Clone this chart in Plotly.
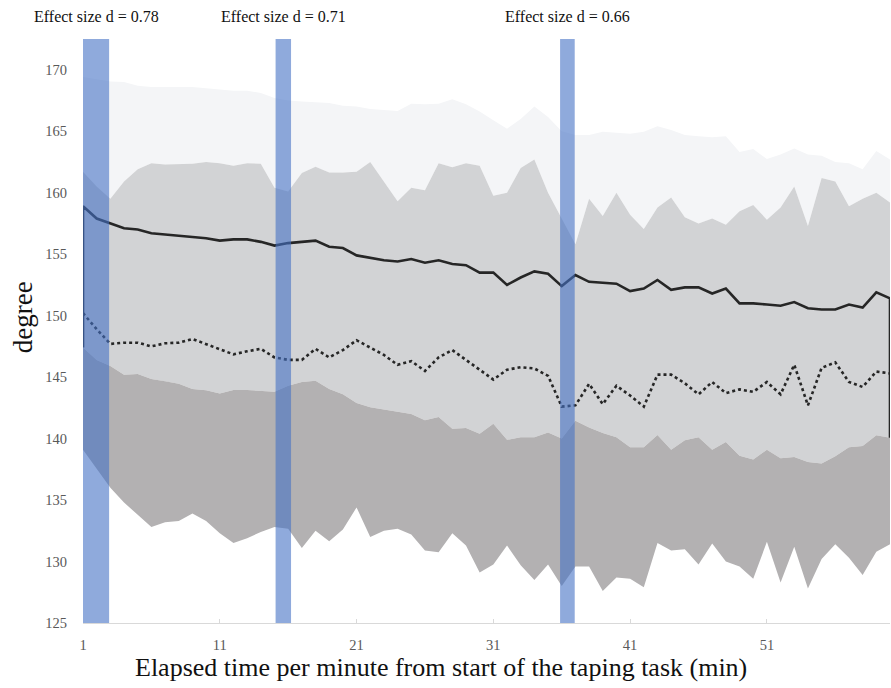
import plotly.graph_objects as go

minutes = list(range(1, 61))

solid_mean = [158.9,157.9,157.5,157.1,157.0,156.7,156.6,156.5,156.35,156.3,
              156.1,156.2,156.2,156.0,155.7,155.9,156.0,156.1,155.6,155.5,
              154.9,154.7,154.5,154.4,154.6,154.3,154.5,154.2,154.1,153.5,
              153.5,152.5,153.1,153.6,153.4,152.4,153.3,152.75,152.7,152.6,
              152.0,152.2,152.9,152.1,152.3,152.3,151.8,152.2,151.0,151.0,
              150.9,150.8,151.1,150.6,150.5,150.5,150.9,150.65,151.9,151.4]

dotted_mean = [150.2,148.9,147.7,147.8,147.8,147.5,147.75,147.8,148.1,147.7,
               147.3,146.85,147.1,147.3,146.6,146.4,146.4,147.3,146.6,147.2,
               148.0,147.4,146.8,146.0,146.3,145.5,146.6,147.2,146.4,145.55,
               144.8,145.6,145.8,145.7,145.1,142.6,142.7,144.45,142.8,144.3,
               143.5,142.6,145.2,145.2,144.5,143.6,144.6,143.7,144.0,143.8,
               144.6,143.6,146.0,142.7,145.75,146.2,144.6,144.2,145.45,145.3]

light_top = [169.4,169.2,169.05,169.0,168.7,168.6,168.6,168.6,168.6,168.5,
             168.4,168.3,168.3,168.1,167.7,167.5,167.42,167.37,167.29,167.07,
             167.0,166.8,166.75,166.64,167.24,167.2,167.24,167.6,167.2,166.6,
             165.9,165.2,166.0,167.0,166.15,165.0,164.7,164.7,164.96,164.9,
             164.8,164.96,165.4,165.1,164.7,164.6,164.5,164.6,163.3,163.55,
             162.74,163.1,163.6,163.1,163.0,162.5,162.4,161.9,163.4,162.7]

mid_top = [161.7,160.5,159.5,160.9,161.9,162.4,162.3,162.3,162.35,162.5,
           162.4,162.2,162.4,162.35,160.4,160.1,161.6,162.1,161.65,161.65,
           161.7,162.5,160.9,159.3,160.4,160.2,162.4,162.06,162.4,162.2,
           159.75,160.0,162.0,162.7,160.0,157.9,155.8,159.5,158.1,160.0,
           158.2,157.05,158.8,159.6,158.0,157.5,157.9,157.4,158.5,159.0,
           157.8,158.8,160.5,157.3,161.2,160.9,158.9,159.5,160.0,159.2]

dark_top = [147.4,146.4,145.9,145.2,145.26,144.85,144.66,144.45,144.04,143.93,
            143.66,143.96,143.96,143.88,143.8,144.3,144.6,144.7,144.04,143.6,
            142.9,142.55,142.36,142.2,142.0,141.5,141.76,140.8,140.87,140.4,
            141.2,139.9,140.1,140.1,140.5,140.0,141.46,140.9,140.46,140.1,
            139.3,139.3,140.3,139.1,139.86,140.1,139.1,139.73,138.6,138.3,
            139.1,138.4,138.5,138.1,137.97,138.56,139.3,139.4,140.27,140.06]

dark_bottom = [139.1,137.5,136.0,134.8,133.8,132.8,133.2,133.3,133.9,133.3,
               132.3,131.5,131.9,132.4,132.8,132.66,131.1,132.5,131.65,132.6,
               134.4,132.0,132.5,132.66,132.2,130.9,130.75,132.3,131.3,129.1,
               129.75,131.3,129.7,128.5,129.75,128.0,129.6,129.6,127.6,128.7,
               128.6,127.9,131.5,130.9,131.0,129.75,131.46,130.0,129.6,128.6,
               131.6,128.3,131.2,127.8,130.2,131.4,130.3,128.9,130.8,131.4]

effect_starts = [1.0, 15.08, 35.88]
effect_ends = [2.91, 16.21, 36.95]
effect_labels = ["Effect size d = 0.78", "Effect size d = 0.71", "Effect size d = 0.66"]

x_ticks = [1, 11, 21, 31, 41, 51]
y_ticks = [125, 130, 135, 140, 145, 150, 155, 160, 165, 170]

FONT = "Liberation Serif"

W, H = 891, 688
L, R, T, B = 82.5, 1, 39, 64.5
pw, ph = W - L - R, H - T - B

fig = go.Figure()


def band(top, bottom, color):
    fig.add_trace(go.Scatter(
        x=minutes + minutes[::-1], y=top + bottom[::-1],
        fill="toself", fillcolor=color, mode="lines",
        line=dict(width=0), hoverinfo="skip", showlegend=False))


band(light_top, mid_top, "#f4f5f7")
band(mid_top, dark_top, "#d2d3d5")
band(dark_top, dark_bottom, "#b3b1b2")

fig.add_trace(go.Scatter(
    x=[minutes[0]] + minutes + [minutes[-1]],
    y=[dark_top[0]] + solid_mean + [dark_top[-1]],
    mode="lines", line=dict(color="#262626", width=2.6),
    showlegend=False))

fig.add_trace(go.Scatter(
    x=minutes, y=dotted_mean,
    mode="lines", line=dict(color="#262626", width=2.6, dash="dot"),
    showlegend=False))

for x0, x1, lab in zip(effect_starts, effect_ends, effect_labels):
    fig.add_shape(type="rect", xref="x", yref="paper", x0=x0, x1=x1, y0=0, y1=1,
                  fillcolor="rgba(68,114,196,0.6)", line=dict(width=0), layer="above")
    fig.add_annotation(x=(x0 + x1) / 2, xref="x", y=(T + ph - 16) / ph, yref="paper",
                       text=lab, showarrow=False, xanchor="center", yanchor="middle",
                       font=dict(family=FONT, size=16, color="#111111"))

fig.add_annotation(x=(441 - L) / pw, xref="paper", y=(T + ph - 668) / ph, yref="paper",
                   text="Elapsed time per minute from start of the taping task (min)",
                   showarrow=False, xanchor="center", yanchor="middle",
                   font=dict(family=FONT, size=26, color="#111111"))
fig.add_annotation(x=(22 - L) / pw, xref="paper", y=(T + ph - 318) / ph, yref="paper",
                   text="degree", textangle=-90, showarrow=False,
                   xanchor="center", yanchor="middle",
                   font=dict(family=FONT, size=27, color="#111111"))

fig.update_layout(
    width=W, height=H,
    margin=dict(l=L, r=R, t=T, b=B, pad=0),
    plot_bgcolor="white", paper_bgcolor="white",
    xaxis=dict(range=[1, 60], tickvals=x_ticks, showgrid=False, zeroline=False,
               showline=True, linecolor="#d9d9d9", linewidth=1,
               ticks="inside", ticklen=4, tickcolor="#d9d9d9",
               ticklabelstandoff=9,
               tickfont=dict(family=FONT, size=14.5, color="#595959")),
    yaxis=dict(range=[125, 172.5], tickvals=y_ticks, showgrid=False, zeroline=False,
               showline=False, ticks="", ticklabelstandoff=15,
               tickfont=dict(family=FONT, size=14.5, color="#595959")),
)

fig.write_html("out.html")
